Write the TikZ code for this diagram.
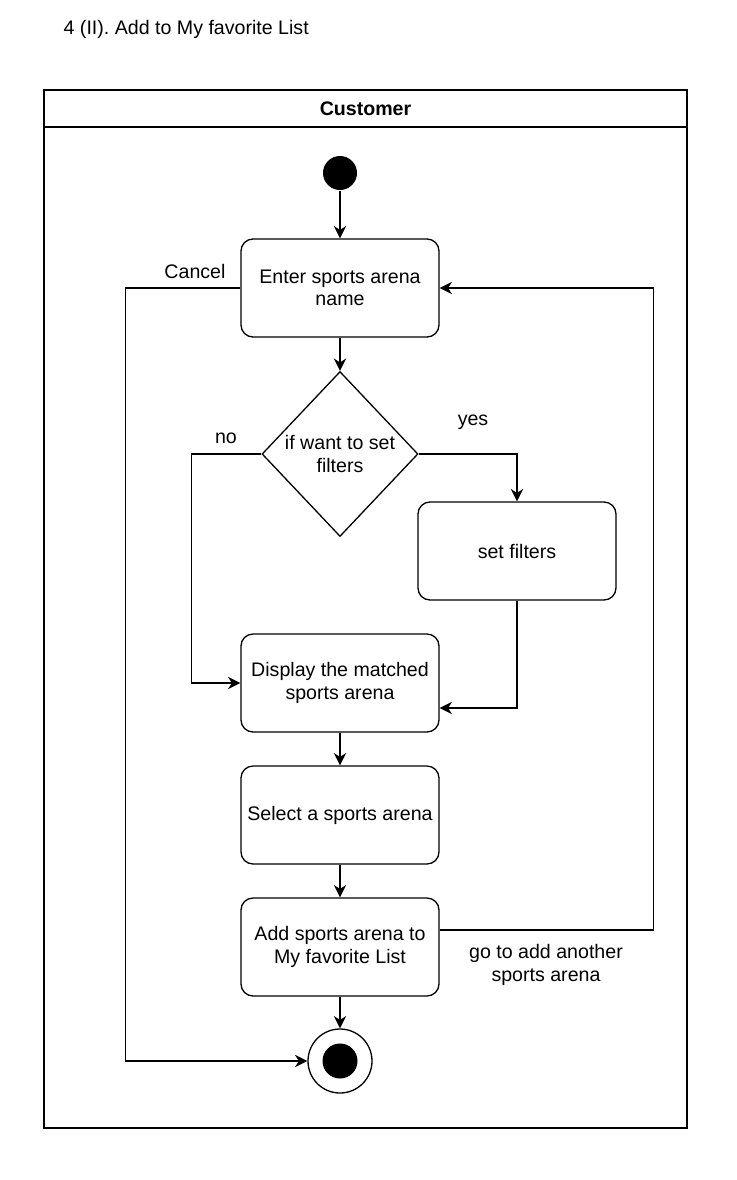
\documentclass[tikz,border=0pt]{standalone}
\usepackage{fontspec}
\setmainfont{Liberation Sans}
\usetikzlibrary{arrows.meta,shapes.geometric}
\tikzset{
  act/.style={draw,rounded corners=6pt,minimum width=99pt,minimum height=49pt,align=center,inner sep=0pt},
  arr/.style={-{Stealth[length=6.2pt,width=6.2pt,inset=2pt]}},
  lbl/.style={align=center,inner sep=0pt}
}
\begin{document}
\begin{tikzpicture}[x=0.5pt,y=-0.5pt,line width=0.65pt,font=\fontsize{9.8}{11.2}\selectfont]
\useasboundingbox(0,0)rectangle(736,1180);
\node[anchor=west,inner sep=0pt](title)at(63,29){4 (II). Add to My favorite List};
\draw(44,90)rectangle(687,1128);
\draw(44,127)--(687,127);
\node[font=\fontsize{9.8}{11.2}\selectfont\bfseries](lane)at(365.5,109){Customer};
\node[circle,fill=black,minimum size=17pt,inner sep=0pt](start)at(340,173){};
\node[act](enter)at(340,288){Enter sports arena\\name};
\node[diamond,draw,minimum width=78pt,minimum height=82.5pt,inner sep=0pt,align=center](want)at(340,454){if want to set\\filters};
\node[act](filt)at(517,551){set filters};
\node[act](disp)at(340,683){Display the matched\\sports arena};
\node[act](sel)at(340,815){Select a sports arena};
\node[act](add)at(340,947){Add sports arena to\\My favorite List};
\node[circle,draw,minimum size=32pt,inner sep=0pt](end)at(340,1061){};
\node[circle,fill=black,minimum size=17.5pt,inner sep=0pt]at(end){};
\draw[arr](start)--(enter);
\draw[arr](enter)--(want);
\draw[arr](enter.west)--++(-115,0)|-(end.west);
\draw[arr](want.west)--++(-70,0)|-(disp.west);
\draw[arr](want.east)-|(filt.north);
\draw[arr](filt.south)|-([yshift=-12.5pt]disp.east);
\draw[arr](disp)--(sel);
\draw[arr](sel)--(add);
\draw[arr](add)--(end);
\draw[arr]([yshift=8.5pt]add.east)--++(214,0)|-(enter.east);
\node[lbl](cancel)at(195,271){Cancel};
\node[lbl](no)at(226,438){no};
\node[lbl](yes)at(473,422){yes};
\node[lbl](again)at(546,965){go to add another\\sports arena};
\end{tikzpicture}
\end{document}
